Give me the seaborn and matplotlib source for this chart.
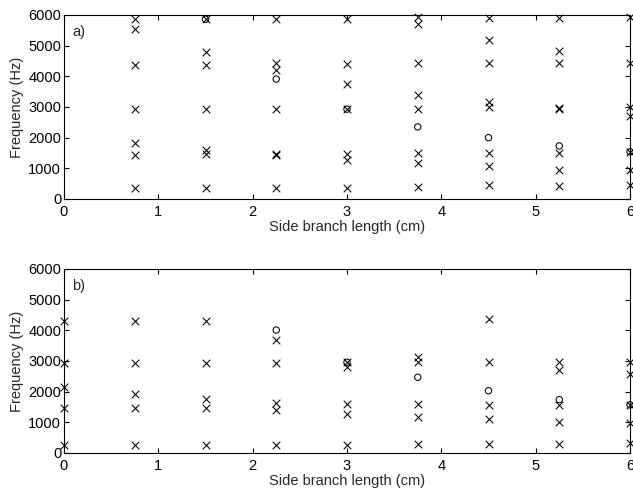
import matplotlib

matplotlib.use("Agg")

import matplotlib.pyplot as plt
import pandas as pd
import seaborn as sns

# side branch lengths (cm) at which frequencies were measured
A_LENGTHS = [0.75, 1.5, 2.25, 3.0, 3.75, 4.5, 5.25, 6.0]
B_LENGTHS = [0.0, 0.75, 1.5, 2.25, 3.0, 3.75, 4.5, 5.25, 6.0]

# panel a) -- frequencies (Hz) marked with crosses, one list per length
A_CROSSES = [
    [5860, 5540, 4380, 2920, 1830, 1450, 370],
    [5860, 4780, 4380, 2920, 1610, 1460, 370],
    [5860, 4420, 4210, 2920, 1460, 1430, 370],
    [5860, 4400, 3760, 2930, 1480, 1270, 370],
    [5920, 5700, 4420, 3400, 2940, 1500, 1180, 400],
    [5910, 5180, 4420, 3150, 2990, 1500, 1070, 450],
    [5910, 4830, 4440, 2970, 2940, 1500, 960, 440],
    [5920, 4450, 2990, 2720, 1530, 940, 450],
]
# panel a) -- frequencies marked with circles (None = no circle)
A_CIRCLES = [None, 5860, 3910, 2930, 2350, 2000, 1730, 1540]

# panel b)
B_CROSSES = [
    [4300, 2950, 2150, 1480, 270],
    [4300, 2950, 1920, 1480, 270],
    [4300, 2950, 1750, 1460, 270],
    [3690, 2950, 1640, 1390, 270],
    [2960, 2820, 1600, 1280, 270],
    [3140, 2980, 1600, 1190, 290],
    [4360, 2980, 1570, 1100, 290],
    [2980, 2710, 1570, 1010, 290],
    [2980, 2580, 1570, 970, 310],
]
B_CIRCLES = [None, None, None, 4010, 2960, 2470, 2030, 1740, 1570]

PANEL_LABELS = ["a)", "b)"]
X_TICKS = [0, 1, 2, 3, 4, 5, 6]
Y_TICKS = [0, 1000, 2000, 3000, 4000, 5000, 6000]


def _long_frame(lengths, crosses, circles):
    rows = []
    for length, freqs, circle in zip(lengths, crosses, circles):
        rows += [{"length": length, "freq": f, "kind": "x"} for f in freqs]
        if circle is not None:
            rows.append({"length": length, "freq": circle, "kind": "o"})
    return pd.DataFrame(rows)


sns.set_theme(style="ticks")
plt.rcParams["font.family"] = ["Liberation Sans", "DejaVu Sans"]
plt.rcParams.update({
    "xtick.direction": "in",
    "ytick.direction": "in",
    "xtick.top": True,
    "ytick.right": True,
    "axes.linewidth": 0.8,
    "font.size": 10.5,
})

fig = plt.figure(figsize=(6.33, 4.96), dpi=100)
W, H = 633, 496
ax_a = fig.add_axes([64 / W, 1 - 199 / H, 566 / W, 184 / H])
ax_b = fig.add_axes([64 / W, 1 - 453 / H, 566 / W, 184 / H])

panels = [
    (ax_a, _long_frame(A_LENGTHS, A_CROSSES, A_CIRCLES)),
    (ax_b, _long_frame(B_LENGTHS, B_CROSSES, B_CIRCLES)),
]

for (ax, frame), label in zip(panels, PANEL_LABELS):
    sns.scatterplot(data=frame[frame["kind"] == "x"], x="length", y="freq", marker="x",
                    color="black", s=30, linewidth=0.75, ax=ax, clip_on=False, zorder=3)
    sns.scatterplot(data=frame[frame["kind"] == "o"], x="length", y="freq", marker="o",
                    facecolors="none", edgecolor="black", s=21, linewidth=0.75, ax=ax,
                    clip_on=False, zorder=3)
    ax.set_xlim(0, 6)
    ax.set_ylim(0, 6000)
    ax.set_xticks(X_TICKS)
    ax.set_yticks(Y_TICKS)
    ax.tick_params(axis="x", length=3.5, width=0.8, pad=4.5, labelsize=10.5, colors="black")
    ax.tick_params(axis="y", length=3.5, width=0.8, pad=2, labelsize=10.5, colors="black")
    for spine in ax.spines.values():
        spine.set_visible(True)
        spine.set_color("black")
    ax.set_xlabel("Side branch length (cm)", fontsize=10.5, labelpad=0.5)
    ax.set_ylabel("Frequency (Hz)", fontsize=10.5, labelpad=3)
    ax.text(0.014, 0.91, label, transform=ax.transAxes, fontsize=10.5,
            ha="left", va="center")

fig.savefig("out.png", dpi=100)
plt.close(fig)
